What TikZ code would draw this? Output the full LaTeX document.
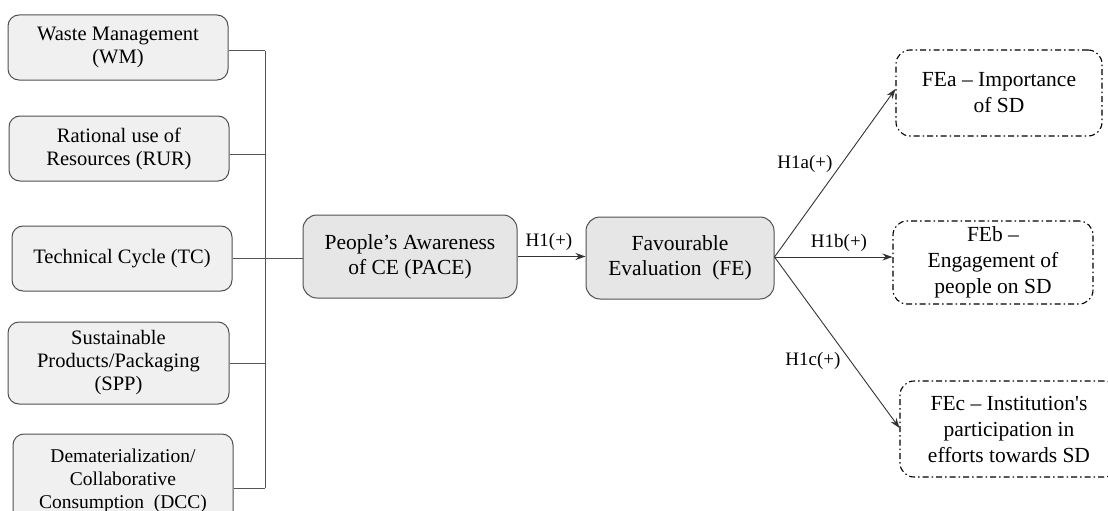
\documentclass[tikz,border=0pt]{standalone}
\usepackage{fontspec}
\setmainfont{Liberation Serif}
\usetikzlibrary{arrows.meta}
\definecolor{edgegray}{HTML}{505050}
\definecolor{linegray}{HTML}{555555}
\definecolor{lightfill}{HTML}{F0F0F0}
\definecolor{midfill}{HTML}{E6E6E6}
\begin{document}
\begin{tikzpicture}[x=1pt,y=-1pt,
  srcbox/.style={draw=edgegray, line width=1pt, fill=lightfill, rounded corners=11pt,
    align=center, inner sep=2pt, font=\fontsize{20.5}{23}\selectfont},
  corebox/.style={draw=edgegray, line width=1pt, fill=midfill, rounded corners=14pt,
    align=center, inner sep=2pt, font=\fontsize{21.5}{25}\selectfont},
  outbox/.style={draw=black, line width=1.1pt, rounded corners=14pt,
    dash pattern=on 6pt off 3pt on 1.5pt off 3pt,
    align=center, inner sep=2pt, font=\fontsize{21.5}{26}\selectfont},
  bus/.style={draw=linegray, line width=1pt},
  link/.style={draw=black!80, line width=0.9pt, -{Stealth[length=10pt,width=7pt]}},
  hyp/.style={font=\fontsize{19}{21}\selectfont, inner sep=1pt}]
\useasboundingbox (0,0) rectangle (1108,511);
\clip (0,0) rectangle (1108,511);

% circular economy dimensions
\node[srcbox, minimum width=220, minimum height=65] (WM) at (118,47.5) {Waste Management\\(WM)};
\node[srcbox, minimum width=220, minimum height=65] (RUR) at (119,148.5) {Rational use of\\Resources (RUR)};
\node[srcbox, minimum width=220, minimum height=65] (TC) at (122,258.5) {Technical Cycle (TC)};
\node[srcbox, minimum width=221, minimum height=82] (SPP) at (118.5,363) {Sustainable\\Products/Packaging\\(SPP)};
\node[srcbox, minimum width=220, minimum height=94, font=\fontsize{19.5}{23}\selectfont] (DCC) at (123,481) {Dematerialization/\\Collaborative\\Consumption~ (DCC)};

% central constructs
\node[corebox, minimum width=214, minimum height=83] (PACE) at (410,256.5) {People’s Awareness\\of CE (PACE)};
\node[corebox, minimum width=188, minimum height=82] (FE) at (680,258) {Favourable\\Evaluation~ (FE)};

% outcome dimensions
\node[outbox, minimum width=206, minimum height=86] (FEa) at (999,93) {FEa – Importance\\of SD};
\node[outbox, minimum width=200, minimum height=83] (FEb) at (993,262.5) {FEb –\\Engagement of\\people on SD};
\node[outbox, minimum width=218, minimum height=96] (FEc) at (1009,429) {FEc – Institution\textquotesingle s\\participation in\\efforts towards SD};

% collecting bus on the left
\coordinate (busx) at (265,0);
\draw[bus] ([yshift=-3.5pt]WM.east) -- ([yshift=-3.5pt]WM.east -| busx);
\draw[bus] ([yshift=-5.5pt]RUR.east) -- ([yshift=-5.5pt]RUR.east -| busx);
\draw[bus] (TC.east) -- (TC.east -| PACE.west);
\draw[bus] (SPP.east) -- (SPP.east -| busx);
\draw[bus] ([yshift=-7pt]DCC.east) -- ([yshift=-7pt]DCC.east -| busx);
\draw[bus] ([yshift=-3.5pt]WM.east -| busx) -- ([yshift=-7pt]DCC.east -| busx);

% hypothesised paths
\coordinate (fesrc) at ([yshift=1pt]FE.east);
\draw[link] (PACE.east) -- (PACE.east -| FE.west);
\draw[link] (fesrc) -- ([yshift=4pt]FEa.west);
\draw[link] (fesrc) -- (fesrc -| FEb.west);
\draw[link] (fesrc) -- ([yshift=1pt]FEc.west);

\node[hyp] (h1) at (549,242) {H1(+)};
\node[hyp] (h1a) at (805,164) {H1a(+)};
\node[hyp] (h1b) at (839,243) {H1b(+)};
\node[hyp] (h1c) at (813,361) {H1c(+)};
\end{tikzpicture}
\end{document}
